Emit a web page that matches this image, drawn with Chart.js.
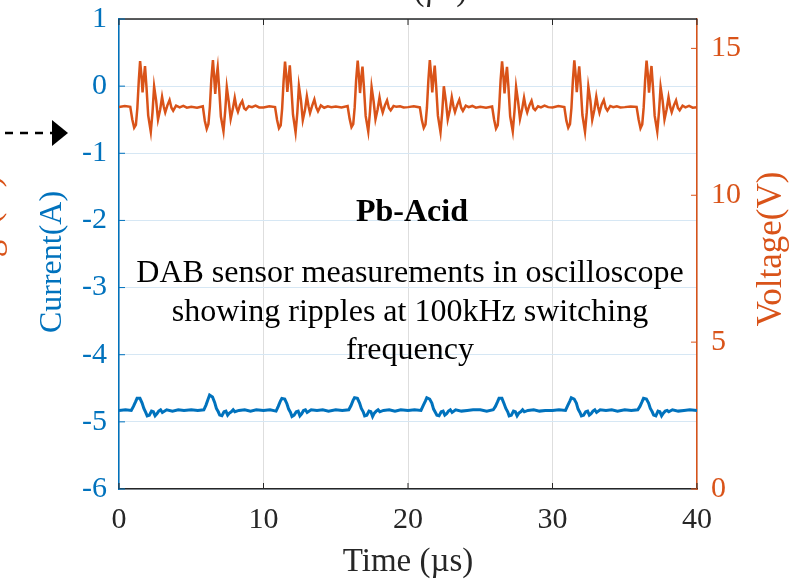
<!DOCTYPE html>
<html>
<head>
<meta charset="utf-8">
<script src="https://cdn.jsdelivr.net/npm/chart.js@4.4.1/dist/chart.umd.min.js"></script>
<style>
  html, body { margin: 0; padding: 0; background: #fff; }
  #wrap { width: 800px; height: 583px; }
</style>
</head>
<body>
<div id="wrap"><canvas id="myChart"></canvas></div>
<script>
// time axis (µs) and tick labels
var xTicks = [0, 10, 20, 30, 40];
var currentTicks = [-6, -5, -4, -3, -2, -1, 0, 1];
var voltageTicks = [0, 5, 10, 15];

// voltage trace (V), one row per switching burst
var voltTime = [
  0.0, 0.4, 0.78, 0.92, 1.05, 1.17, 1.27, 1.37, 1.46, 1.55, 1.63, 1.72, 1.8, 1.9, 2.02, 2.2, 2.32, 2.43, 2.57, 2.7, 2.85, 2.98, 3.1, 3.2, 3.35, 3.5, 3.63, 3.75, 3.95, 4.2, 4.45, 4.7,
  5.0, 5.4, 5.8, 5.94, 6.07, 6.19, 6.29, 6.39, 6.5, 6.58, 6.66, 6.75, 6.83, 6.93, 7.05, 7.23, 7.35, 7.46, 7.6, 7.73, 7.88, 8.01, 8.13, 8.23, 8.38, 8.53, 8.66, 8.78, 8.98, 9.2, 9.45, 9.7,
  10.0, 10.4, 10.8, 10.94, 11.07, 11.19, 11.29, 11.39, 11.49, 11.57, 11.65, 11.74, 11.82, 11.92, 12.04, 12.22, 12.34, 12.45, 12.59, 12.72, 12.87, 13.0, 13.12, 13.22, 13.37, 13.52, 13.65, 13.77, 13.97, 14.2, 14.45, 14.7,
  15.0, 15.4, 15.82, 15.96, 16.09, 16.21, 16.31, 16.41, 16.52, 16.6, 16.68, 16.77, 16.85, 16.95, 17.07, 17.25, 17.37, 17.48, 17.62, 17.75, 17.9, 18.03, 18.15, 18.25, 18.4, 18.55, 18.68, 18.8, 19.0, 19.2, 19.45, 19.7,
  20.0, 20.4, 20.82, 20.96, 21.09, 21.21, 21.31, 21.41, 21.51, 21.6, 21.68, 21.77, 21.85, 21.95, 22.07, 22.25, 22.37, 22.48, 22.62, 22.75, 22.9, 23.03, 23.15, 23.25, 23.4, 23.55, 23.68, 23.8, 24.0, 24.2, 24.45, 24.7,
  25.0, 25.4, 25.82, 25.96, 26.09, 26.21, 26.31, 26.41, 26.51, 26.6, 26.68, 26.77, 26.85, 26.95, 27.07, 27.25, 27.37, 27.48, 27.62, 27.75, 27.9, 28.03, 28.15, 28.25, 28.4, 28.55, 28.68, 28.8, 29.0, 29.2, 29.45, 29.7,
  30.0, 30.4, 30.82, 30.96, 31.09, 31.21, 31.31, 31.41, 31.51, 31.6, 31.68, 31.77, 31.85, 31.95, 32.07, 32.25, 32.37, 32.48, 32.62, 32.75, 32.9, 33.03, 33.15, 33.25, 33.4, 33.55, 33.68, 33.8, 34.0, 34.2, 34.45, 34.7,
  35.0, 35.4, 35.82, 35.96, 36.09, 36.21, 36.31, 36.41, 36.51, 36.6, 36.68, 36.77, 36.85, 36.95, 37.07, 37.25, 37.37, 37.48, 37.62, 37.75, 37.9, 38.03, 38.15, 38.25, 38.4, 38.55, 38.68, 38.8, 39.0, 39.2, 39.45, 39.7,
  40.0
];
var voltage = [
  13.0, 13.04, 13.01, 12.58, 12.3, 12.4, 12.97, 13.9, 14.57, 14.1, 13.5, 14.0, 14.4, 13.7, 12.72, 12.16, 12.83, 13.7, 13.22, 12.58, 12.92, 13.35, 13.01, 12.82, 13.06, 13.24, 12.98, 12.88, 13.05, 12.99, 13.04, 12.98,
  13.01, 12.98, 13.03, 12.53, 12.26, 12.43, 13.02, 13.95, 14.6, 14.05, 13.45, 14.05, 14.35, 13.65, 12.68, 12.18, 12.87, 13.68, 13.17, 12.6, 12.95, 13.32, 12.98, 12.84, 13.08, 13.21, 12.96, 12.91, 13.03, 13.0, 13.05, 12.99,
  12.99, 13.03, 13.0, 12.56, 12.28, 12.38, 12.95, 13.88, 14.55, 14.12, 13.52, 13.98, 14.42, 13.72, 12.75, 12.14, 12.8, 13.72, 13.24, 12.56, 12.9, 13.37, 13.02, 12.8, 13.05, 13.26, 12.99, 12.86, 13.06, 12.98, 13.03, 13.0,
  13.02, 12.99, 13.04, 12.6, 12.32, 12.42, 12.99, 13.92, 14.58, 14.08, 13.48, 14.02, 14.38, 13.68, 12.7, 12.17, 12.85, 13.68, 13.2, 12.59, 12.93, 13.33, 13.0, 12.82, 13.06, 13.23, 12.97, 12.89, 13.04, 13.01, 13.03, 12.99,
  13.0, 13.03, 12.99, 12.55, 12.29, 12.41, 12.98, 13.91, 14.6, 14.09, 13.5, 14.03, 14.41, 13.7, 12.71, 12.15, 12.84, 13.71, 13.21, 12.58, 12.91, 13.34, 13.01, 12.83, 13.07, 13.25, 12.98, 12.87, 13.05, 13.0, 13.04, 12.98,
  13.01, 12.98, 13.02, 12.57, 12.27, 12.39, 13.0, 13.93, 14.56, 14.07, 13.47, 14.01, 14.37, 13.69, 12.69, 12.18, 12.86, 13.69, 13.19, 12.6, 12.94, 13.32, 12.99, 12.82, 13.06, 13.22, 12.96, 12.9, 13.03, 12.99, 13.05, 13.0,
  12.99, 13.04, 13.0, 12.54, 12.3, 12.42, 12.97, 13.9, 14.59, 14.11, 13.51, 14.0, 14.39, 13.71, 12.73, 12.16, 12.82, 13.7, 13.23, 12.57, 12.92, 13.36, 13.01, 12.81, 13.08, 13.24, 12.98, 12.88, 13.04, 13.0, 13.03, 12.99,
  13.0, 13.02, 13.01, 12.58, 12.28, 12.41, 12.99, 13.92, 14.58, 14.1, 13.49, 14.02, 14.4, 13.7, 12.71, 12.17, 12.84, 13.69, 13.22, 12.58, 12.93, 13.34, 13.0, 12.83, 13.06, 13.23, 12.97, 12.89, 13.05, 12.99, 13.04, 12.98,
  13.0
];

// current trace (A)
var currTime = [
  0.0, 0.45, 0.85, 1.0, 1.15, 1.25, 1.45, 1.6, 1.72, 1.85, 1.95, 2.1, 2.25, 2.38, 2.5, 2.62, 2.75, 2.88, 3.0, 3.3, 3.7, 4.1, 4.5,
  5.0, 5.45, 5.87, 6.02, 6.17, 6.27, 6.47, 6.62, 6.74, 6.87, 6.97, 7.12, 7.27, 7.4, 7.52, 7.64, 7.77, 7.9, 8.02, 8.3, 8.7, 9.1, 9.5,
  10.0, 10.45, 10.87, 11.02, 11.17, 11.27, 11.47, 11.62, 11.74, 11.87, 11.97, 12.12, 12.27, 12.4, 12.52, 12.64, 12.77, 12.9, 13.02, 13.3, 13.7, 14.1, 14.5,
  15.0, 15.45, 15.9, 16.05, 16.2, 16.3, 16.5, 16.65, 16.77, 16.9, 17.0, 17.15, 17.3, 17.43, 17.55, 17.67, 17.8, 17.93, 18.05, 18.3, 18.7, 19.1, 19.5,
  20.0, 20.45, 20.9, 21.05, 21.2, 21.3, 21.5, 21.65, 21.77, 21.9, 22.0, 22.15, 22.3, 22.43, 22.55, 22.67, 22.8, 22.93, 23.05, 23.3, 23.7, 24.1, 24.5,
  25.0, 25.45, 25.9, 26.05, 26.2, 26.3, 26.5, 26.65, 26.77, 26.9, 27.0, 27.15, 27.3, 27.43, 27.55, 27.67, 27.8, 27.93, 28.05, 28.3, 28.7, 29.1, 29.5,
  30.0, 30.45, 30.9, 31.05, 31.2, 31.3, 31.5, 31.65, 31.77, 31.9, 32.0, 32.15, 32.3, 32.43, 32.55, 32.67, 32.8, 32.93, 33.05, 33.3, 33.7, 34.1, 34.5,
  35.0, 35.45, 35.9, 36.05, 36.2, 36.3, 36.5, 36.65, 36.77, 36.9, 37.0, 37.15, 37.3, 37.43, 37.55, 37.67, 37.8, 37.93, 38.05, 38.3, 38.7, 39.1, 39.5,
  40.0
];
var current = [
  -4.83, -4.82, -4.83, -4.77, -4.7, -4.65, -4.65, -4.72, -4.8, -4.86, -4.91, -4.9, -4.84, -4.85, -4.91, -4.88, -4.84, -4.82, -4.86, -4.82, -4.84, -4.82, -4.83,
  -4.82, -4.83, -4.82, -4.75, -4.66, -4.6, -4.63, -4.71, -4.8, -4.85, -4.9, -4.91, -4.85, -4.84, -4.9, -4.87, -4.85, -4.82, -4.85, -4.83, -4.82, -4.84, -4.82,
  -4.83, -4.82, -4.84, -4.77, -4.69, -4.65, -4.66, -4.73, -4.81, -4.86, -4.92, -4.9, -4.85, -4.84, -4.91, -4.88, -4.83, -4.82, -4.86, -4.82, -4.83, -4.82, -4.84,
  -4.82, -4.83, -4.82, -4.76, -4.68, -4.64, -4.65, -4.72, -4.8, -4.85, -4.91, -4.9, -4.84, -4.85, -4.92, -4.87, -4.84, -4.82, -4.85, -4.83, -4.82, -4.84, -4.82,
  -4.83, -4.82, -4.83, -4.76, -4.69, -4.64, -4.66, -4.72, -4.81, -4.86, -4.9, -4.91, -4.85, -4.84, -4.9, -4.88, -4.84, -4.82, -4.86, -4.82, -4.84, -4.83, -4.82,
  -4.82, -4.84, -4.82, -4.77, -4.7, -4.65, -4.65, -4.73, -4.8, -4.85, -4.91, -4.9, -4.84, -4.85, -4.91, -4.87, -4.85, -4.82, -4.85, -4.83, -4.82, -4.84, -4.83,
  -4.83, -4.82, -4.83, -4.76, -4.69, -4.64, -4.66, -4.72, -4.81, -4.86, -4.91, -4.9, -4.85, -4.84, -4.9, -4.88, -4.84, -4.82, -4.86, -4.82, -4.83, -4.82, -4.84,
  -4.82, -4.83, -4.82, -4.77, -4.7, -4.65, -4.66, -4.72, -4.8, -4.85, -4.9, -4.91, -4.84, -4.85, -4.91, -4.87, -4.84, -4.83, -4.85, -4.82, -4.84, -4.83, -4.82,
  -4.83
];

var blue = '#0072BD';
var orange = '#D95319';
var serif = '"Liberation Serif", "Times New Roman", serif';

function toPoints(xs, ys) {
  return xs.map(function (t, i) { return { x: t, y: ys[i] }; });
}
function keepTicks(list) {
  return function (scale) {
    scale.ticks = list.map(function (v) { return { value: v }; });
  };
}

// inside tick marks, top frame, axis titles and the text box
var decorations = {
  id: 'decorations',
  afterDraw: function (chart) {
    var ctx = chart.ctx, a = chart.chartArea;
    var sx = chart.scales.x, sy = chart.scales.y, sy1 = chart.scales.y1;
    var len = 6;
    ctx.save();

    ctx.strokeStyle = '#262626';
    ctx.lineWidth = 1.5;
    ctx.beginPath();
    ctx.moveTo(a.left, a.top);
    ctx.lineTo(a.right, a.top);
    ctx.stroke();

    ctx.lineWidth = 1;
    sx.ticks.forEach(function (t) {
      var px = sx.getPixelForValue(t.value);
      ctx.beginPath();
      ctx.moveTo(px, a.bottom); ctx.lineTo(px, a.bottom - len);
      ctx.moveTo(px, a.top); ctx.lineTo(px, a.top + len);
      ctx.stroke();
    });
    ctx.strokeStyle = blue;
    sy.ticks.forEach(function (t) {
      var py = sy.getPixelForValue(t.value);
      ctx.beginPath(); ctx.moveTo(a.left, py); ctx.lineTo(a.left + len, py); ctx.stroke();
    });
    ctx.strokeStyle = orange;
    sy1.ticks.forEach(function (t) {
      var py = sy1.getPixelForValue(t.value);
      ctx.beginPath(); ctx.moveTo(a.right, py); ctx.lineTo(a.right - len, py); ctx.stroke();
    });

    ctx.textAlign = 'center';
    ctx.textBaseline = 'middle';

    // axis titles
    ctx.font = '33px ' + serif;
    ctx.fillStyle = '#262626';
    ctx.fillText('Time (\u00b5s)', 408, 562);

    ctx.save();
    ctx.translate(53, 262);
    ctx.rotate(-Math.PI / 2);
    ctx.fillStyle = blue;
    ctx.font = '32px ' + serif;
    ctx.fillText('Current(A)', 0, 0);
    ctx.restore();

    ctx.save();
    ctx.translate(772, 249);
    ctx.rotate(-Math.PI / 2);
    ctx.fillStyle = orange;
    ctx.font = '35px ' + serif;
    ctx.fillText('Voltage(V)', 0, 0);
    ctx.restore();

    // cut-off pieces of the neighbouring panels
    ctx.save();
    ctx.translate(-10, 253);
    ctx.rotate(-Math.PI / 2);
    ctx.fillStyle = orange;
    ctx.font = '35px ' + serif;
    ctx.fillText('Voltage(V)', 0, 0);
    ctx.restore();

    ctx.textBaseline = 'alphabetic';
    ctx.fillStyle = '#262626';
    ctx.font = '33px ' + serif;
    ctx.fillText('Time (\u00b5s)', 402, 0);

    // dashed arrow on the left
    ctx.strokeStyle = '#000';
    ctx.lineWidth = 2.5;
    ctx.setLineDash([8, 7]);
    ctx.beginPath(); ctx.moveTo(5, 133); ctx.lineTo(52, 133); ctx.stroke();
    ctx.setLineDash([]);
    ctx.fillStyle = '#000';
    ctx.beginPath(); ctx.moveTo(52, 120); ctx.lineTo(68, 133); ctx.lineTo(52, 146); ctx.closePath(); ctx.fill();

    // annotation
    var cx = (a.left + a.right) / 2 + 4;
    ctx.textBaseline = 'middle';
    ctx.fillStyle = '#000';
    ctx.font = 'bold 32px ' + serif;
    ctx.fillText('Pb-Acid', cx, a.top + 194);
    ctx.font = '32px ' + serif;
    ctx.fillText('DAB sensor measurements in oscilloscope', cx - 2, a.top + 255);
    ctx.fillText('showing ripples at 100kHz switching', cx - 2, a.top + 294);
    ctx.fillText('frequency', cx - 2, a.top + 332);

    ctx.restore();
  }
};

var ctx = document.getElementById('myChart').getContext('2d');
var chart = new Chart(ctx, {
  type: 'line',
  data: {
    datasets: [
      {
        label: 'Current',
        data: toPoints(currTime, current),
        yAxisID: 'y',
        borderColor: blue,
        borderWidth: 3,
        pointRadius: 0,
        tension: 0
      },
      {
        label: 'Voltage',
        data: toPoints(voltTime, voltage),
        yAxisID: 'y1',
        borderColor: orange,
        borderWidth: 2.5,
        pointRadius: 0,
        tension: 0
      }
    ]
  },
  options: {
    responsive: true,
    maintainAspectRatio: false,
    animation: false,
    layout: { padding: { top: 19, left: 0, right: 0, bottom: 0 } },
    plugins: { legend: { display: false }, tooltip: { enabled: false } },
    scales: {
      x: {
        type: 'linear',
        min: 0,
        max: 40,
        afterBuildTicks: keepTicks(xTicks),
        afterFit: function (s) { s.height = 94; s.paddingLeft = 0; s.paddingRight = 0; },
        grid: { color: '#dedede', lineWidth: 1, drawTicks: false },
        border: { color: '#262626', width: 1.5 },
        ticks: { color: '#262626', padding: 13, font: { family: serif, size: 30 } }
      },
      y: {
        position: 'left',
        min: -6,
        max: 1,
        afterBuildTicks: keepTicks(currentTicks),
        afterFit: function (s) { s.width = 119; s.paddingTop = 0; s.paddingBottom = 0; },
        grid: { color: '#d6e7f4', lineWidth: 1, drawTicks: false },
        border: { color: blue, width: 1.5 },
        ticks: { color: blue, padding: 12, font: { family: serif, size: 30 } }
      },
      y1: {
        position: 'right',
        min: 0,
        max: 16,
        afterBuildTicks: keepTicks(voltageTicks),
        afterFit: function (s) { s.width = 103; s.paddingTop = 0; s.paddingBottom = 0; },
        grid: { display: false, drawTicks: false },
        border: { color: orange, width: 1.5 },
        ticks: { color: orange, padding: 14, font: { family: serif, size: 30 } }
      }
    }
  },
  plugins: [decorations]
});
</script>
</body>
</html>
